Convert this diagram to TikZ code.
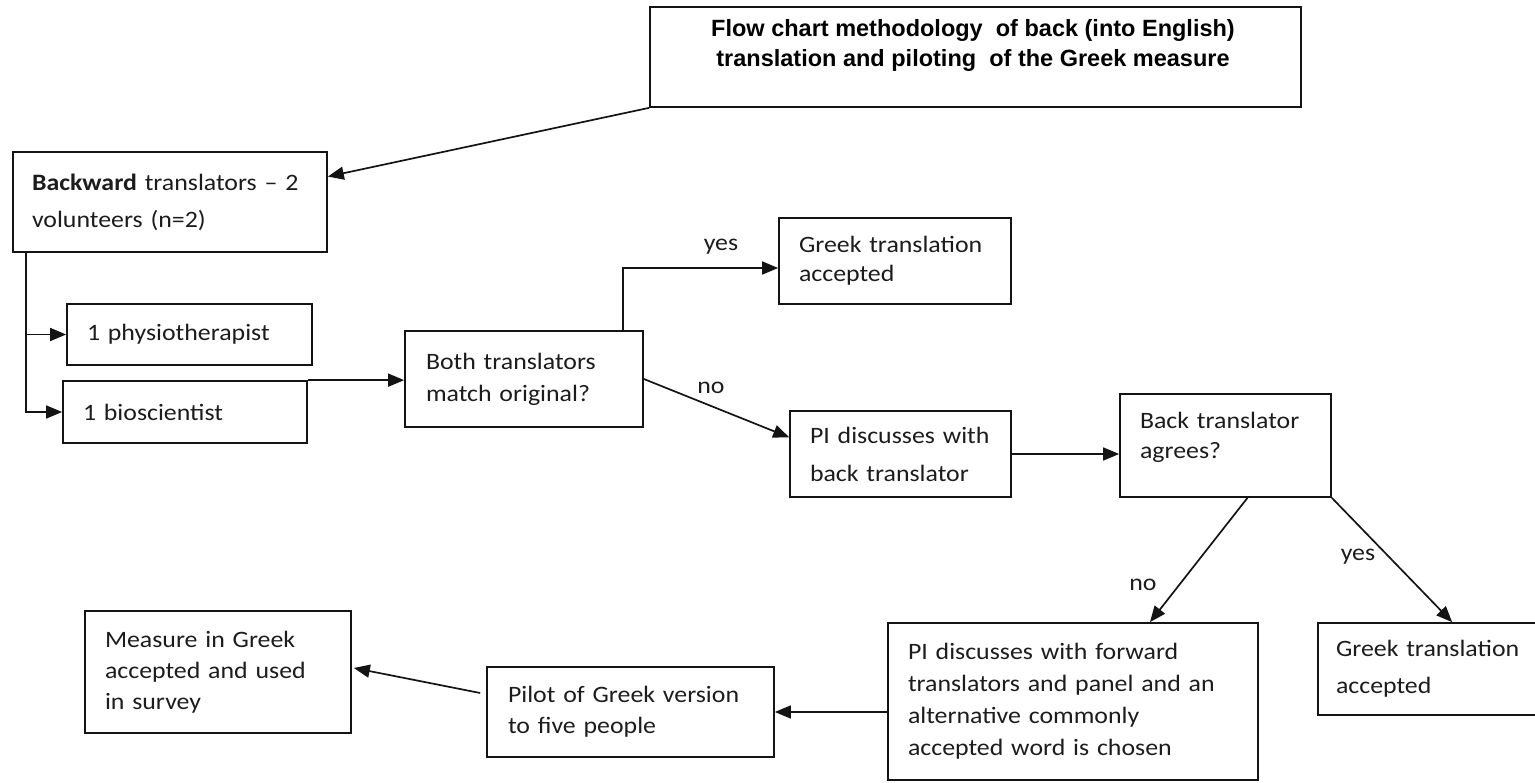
\documentclass[tikz,border=0pt]{standalone}
\usepackage{fontspec}
\setmainfont{Carlito}
\newfontfamily\boxfont[FakeStretch=1.1]{Carlito}
\newfontfamily\headfont{Liberation Sans}
\usetikzlibrary{arrows.meta,calc}
\definecolor{ink}{HTML}{141414}
\definecolor{txt}{HTML}{1C1C1C}

\tikzset{
  box/.style={draw=ink, line width=1.7pt, rectangle, inner ysep=0pt,
    align=left, text=txt},
  lead/.style={font=\boxfont\fontsize{23.5}{#1}\selectfont},
  conn/.style={draw=ink, line width=1.7pt,
    -{Triangle[length=16pt,width=13pt]}},
  tag/.style={text=txt, inner sep=0pt,
    font=\boxfont\fontsize{23.5}{28}\selectfont},
}

\begin{document}
\begin{tikzpicture}[x=1pt, y=-1pt]
\useasboundingbox (0,0) rectangle (1535,783);

% title box with its two-line heading
\node[draw=ink, line width=1.7pt, minimum width=651pt, minimum height=100pt,
  inner sep=0pt] (title) at (975.5,57) {};
\node[align=center, inner sep=0pt, text=black,
  font=\headfont\bfseries\fontsize{23.5}{30}\selectfont] (titletext) at (973,45)
  {Flow chart methodology\ \ of back (into English)\\
   translation and piloting\ \ of the Greek measure};

% boxes
\node[box, lead=37, minimum width=314pt, minimum height=100pt,
  inner xsep=19pt, text width=276pt] (bw) at (170,202)
  {\textbf{Backward} translators \textendash\ 2\\volunteers (n=2)};
\node[box, lead=28, minimum width=245pt, minimum height=61pt,
  inner xsep=20pt, text width=205pt] (phys) at (189.5,334.5)
  {1 physiotherapist};
\node[box, lead=28, minimum width=244pt, minimum height=62pt,
  inner xsep=20pt, text width=204pt] (bio) at (185,412)
  {1 bioscientist};
\node[box, lead=32, minimum width=238pt, minimum height=96pt,
  inner xsep=21pt, text width=196pt] (both) at (524,379)
  {Both translators\\match original?};
\node[box, lead=29, minimum width=232pt, minimum height=86pt,
  inner xsep=20pt, text width=192pt] (gr1) at (895,261)
  {Greek translation\\accepted};
\node[box, lead=38, minimum width=221pt, minimum height=86pt,
  inner xsep=20pt, text width=181pt] (pi) at (900.5,454)
  {PI discusses with\\back translator};
\node[box, lead=30, minimum width=211pt, minimum height=103pt,
  inner xsep=20pt, text width=171pt] (back) at (1225.5,445.5)
  {Back translator\\agrees?\\[-10pt]\mbox{}};
\node[box, lead=32, minimum width=370pt, minimum height=157pt,
  inner xsep=20pt, text width=330pt] (big) at (1073,701.5)
  {PI discusses with forward\\translators and panel and an\\
   alternative commonly\\accepted word is chosen};
\node[box, lead=37, minimum width=242pt, minimum height=92pt,
  inner xsep=18pt, text width=206pt] (gr2) at (1439,669)
  {Greek translation\\accepted};
\node[box, lead=31, minimum width=287pt, minimum height=90pt,
  inner xsep=21pt, text width=245pt] (pilot) at (630.5,712)
  {Pilot of Greek version\\to five people};
\node[box, lead=31, minimum width=266pt, minimum height=122pt,
  inner xsep=20pt, text width=226pt] (meas) at (218,672)
  {Measure in Greek\\accepted and used\\in survey};

% connectors
\coordinate (split) at ($(bw.south west)+(14,0)$);
\draw[conn] (title.south west) -- ($(bw.north east)!0.25!(bw.south east)$);
\draw[conn] (split) |- (phys.west);
\draw[conn] (split) |- (bio.west);
\draw[conn] (bio.north east) -- (both.west |- bio.north east);
\draw[conn] ($(both.north east)+(-21,0)$) |- ($(gr1.north west)!0.58!(gr1.south west)$);
\draw[conn] (both.east) -- ($(pi.north west)!0.31!(pi.south west)$);
\draw[conn] (pi.east) -- (pi.east -| back.west);
\draw[conn] ($(back.south)+(22,0)$) -- ($(big.north)+(77,0)$);
\draw[conn] (back.south east) -- ($(gr2.north west)+(135,0)$);
\draw[conn] (big.west |- pilot.east) -- (pilot.east);
\draw[conn] ($(pilot.west)+(-6,-19)$) -- ($(meas.east)+(2,-4)$);

% branch labels
\node[tag] (yes1) at (721,247) {yes};
\node[tag] (no1) at (711,388) {no};
\node[tag] (no2) at (1143,585) {no};
\node[tag] (yes2) at (1358,557) {yes};
\end{tikzpicture}
\end{document}
